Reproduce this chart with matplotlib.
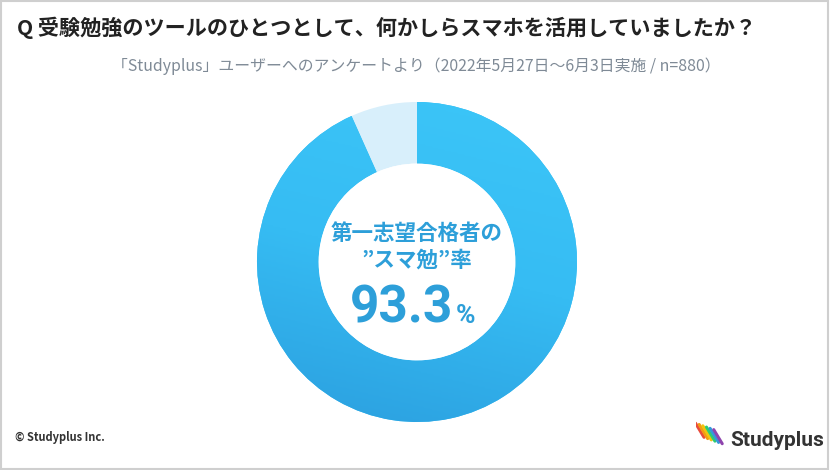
import numpy as np
import matplotlib.pyplot as plt
from matplotlib.patches import Rectangle, Circle
from matplotlib.colors import LinearSegmentedColormap

plt.rcParams['font.family'] = ['Noto Sans CJK JP', 'DejaVu Sans']

labels = ['スマホを活用していた', '活用していなかった']
values = [93.3, 6.7]
colors = ['#34bdf3', '#d8effb']

title = 'Q 受験勉強のツールのひとつとして、何かしらスマホを活用していましたか？'
subtitle = '「Studyplus」ユーザーへのアンケートより（2022年5月27日～6月3日実施 / n=880）'
center_lines = ['第一志望合格者の', '”スマ勉”率']
rate_label = '93.3'

fig = plt.figure(figsize=(8.3, 4.7), dpi=100)
fig.patch.set_facecolor('white')
fig.patches.append(Rectangle((0.001, 0.002), 0.997, 0.995, transform=fig.transFigure,
                             fill=False, edgecolor='#cfcfcf', linewidth=1.5))

fig.text(0.021, 1 - 28 / 470, title, fontsize=15.2, fontweight='bold', color='#222222',
         va='center', ha='left')
fig.text(416 / 830, 1 - 66 / 470, subtitle, fontsize=11.4, color='#7f8a96',
         va='center', ha='center')

# donut, centre at (417, 262) px, outer radius 160 px, inner 98 px
cx, cy, r = 417 / 830, 208 / 470, 160
ax = fig.add_axes([cx - r / 830, cy - r / 470, 2 * r / 830, 2 * r / 470])
wedges, _ = ax.pie(values, colors=colors, startangle=90, counterclock=False, radius=1,
                   wedgeprops=dict(width=0.385, edgecolor='none'))

# soft gradient on the main ring, light at top right, deeper at bottom left
grad_cmap = LinearSegmentedColormap.from_list('ring', ['#2b9fdf', '#36bcf3', '#3cc6f8'])
gx, gy = np.meshgrid(np.linspace(-1, 1, 200), np.linspace(-1, 1, 200))
im = ax.imshow(gy * 0.8 + gx * 0.2, cmap=grad_cmap, extent=[-1, 1, -1, 1], origin='lower',
               vmin=-1, vmax=1, zorder=wedges[0].get_zorder() + 0.1)
im.set_clip_path(wedges[0])

ax.add_patch(Circle((0, 0), 0.615, facecolor='white', edgecolor='none', zorder=5))
ax.set_xlim(-1, 1)
ax.set_ylim(-1, 1)
ax.set_aspect('equal')
ax.axis('off')

txt = '#2d9fd9'
ax.text(0, 0.18, center_lines[0], fontsize=15.5, fontweight='bold', color=txt,
        ha='center', va='center', zorder=6)
ax.text(0, 0.01, center_lines[1], fontsize=15.5, fontweight='bold', color=txt,
        ha='center', va='center', zorder=6)
ax.text(0.225, -0.381, rate_label, fontsize=37, fontweight='bold', color=txt,
        ha='right', va='baseline', family=['Roboto', 'DejaVu Sans'], zorder=6)
ax.text(0.245, -0.381, '%', fontsize=19, fontweight='bold', color=txt,
        ha='left', va='baseline', family=['Roboto', 'DejaVu Sans'], zorder=6)

fig.text(0.018, 1 - 438 / 470, '© Studyplus Inc.', fontsize=8, fontweight='bold',
         color='#333333', va='center', ha='left')

# logo
logo_colors = ['#e94b3c', '#f39c12', '#f1c40f', '#2ecc71', '#3498db', '#8e44ad']
lax = fig.add_axes([0.838, 0.045, 0.038, 0.06])
for i, c in enumerate(logo_colors):
    lax.plot([i * 0.15, i * 0.15 + 0.35], [1.0 - i * 0.05, 0.45 - i * 0.05], color=c,
             linewidth=2.2, solid_capstyle='round')
lax.set_xlim(0, 1.3)
lax.set_ylim(0, 1.1)
lax.axis('off')
fig.text(0.88, 1 - 440 / 470, 'Studyplus', fontsize=15, fontweight='bold', color='#333333',
         va='center', ha='left', family=['Roboto', 'DejaVu Sans'])

fig.savefig('out.png', dpi=100)
